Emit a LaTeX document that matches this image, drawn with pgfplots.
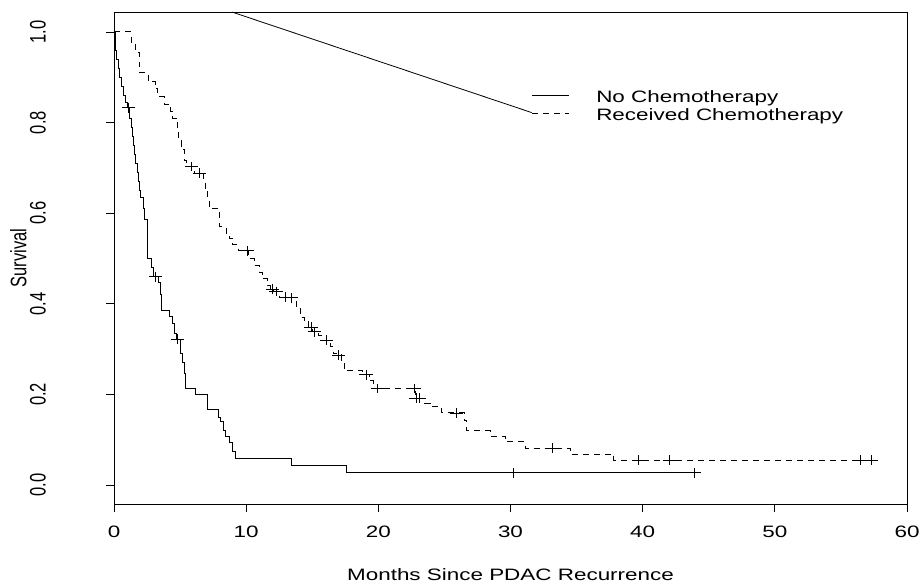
\documentclass[border=0pt]{standalone}
\usepackage{fontspec}
\setmainfont{Liberation Sans}[FakeStretch=1.36]
\newfontfamily\rotfont{Liberation Sans}[FakeStretch=0.737]
\usepackage{pgfplots}
\pgfplotsset{compat=1.18}

% horizontal text and rotated text (the reference is stretched sideways)
\newcommand\hfont{\fontsize{16.5bp}{19bp}\selectfont}
\newcommand\vfont{\rotfont\fontsize{22.4bp}{26bp}\selectfont}

\begin{document}
\begin{tikzpicture}
\useasboundingbox (-114bp,-80bp) rectangle (807bp,504bp);
\begin{axis}[
    scale only axis,
    width=793bp, height=492bp,
    xmin=0, xmax=60, ymin=-0.042, ymax=1.044,
    xtick={0,10,20,30,40,50,60},
    ytick={0,0.2,0.4,0.6,0.8,1},
    xtick pos=lower, ytick pos=left,
    tick align=outside, major tick length=8bp,
    tick style={black, line width=0.8bp},
    axis line style={line width=0.9bp},
    /pgf/number format/assume math mode=true,
    xticklabel style={font=\hfont, anchor=north, inner sep=0pt},
    xticklabel shift=14bp,
    yticklabel={\pgfmathprintnumber[fixed,fixed zerofill,precision=1]{\tick}},
    yticklabel style={font=\vfont, rotate=90, anchor=south, inner sep=0pt},
    yticklabel shift=60bp,
    xlabel={Months Since PDAC Recurrence},
    xlabel style={font=\hfont, at={(axis description cs:0.5,0)}, anchor=base, inner sep=0pt, yshift=-76bp},
    ylabel={Survival},
    ylabel style={font=\vfont, at={(axis description cs:-0.1100,0.5)}, anchor=south, inner sep=0pt},
    legend style={draw=none, fill=none, at={(rel axis cs:0.5267,0.840)}, anchor=north west,
        inner sep=0pt, outer sep=0pt, row sep=1.7bp,
        nodes={inner sep=0pt, font=\hfont, text height=11.8bp, text depth=4.2bp},
        /tikz/every odd column/.append style={column sep=26.7bp}},
    legend cell align=left,
    legend image code/.code={\draw[#1] (0bp,3bp) -- (37bp,3bp);},
]
% No Chemotherapy
\addplot[const plot, black, line width=0.9bp] coordinates {
(0,1.0)(0.08,0.96)(0.2,0.94)(0.3,0.92)(0.4,0.90)(0.55,0.88)(0.7,0.86)(0.85,0.845)
(1.0,0.833)(1.2,0.81)(1.3,0.79)(1.4,0.77)(1.5,0.75)(1.55,0.73)(1.65,0.71)(1.75,0.69)
(1.85,0.67)(1.95,0.65)(2.0,0.634)(2.2,0.61)(2.3,0.587)(2.5,0.545)(2.55,0.50)(2.8,0.48)
(3.0,0.46)(3.35,0.446)(3.5,0.42)(3.6,0.386)(4.2,0.372)(4.45,0.357)(4.6,0.335)(4.7,0.322)
(5.0,0.30)(5.05,0.291)(5.2,0.27)(5.3,0.247)(5.43,0.213)(6.19,0.199)(7.07,0.167)(7.9,0.15)
(8.05,0.14)(8.3,0.12)(8.4,0.107)(8.7,0.093)(9.0,0.074)(9.2,0.059)(13.46,0.043)(17.55,0.027)
(43.9,0.027)
};
\addlegendentry{No Chemotherapy}
% Received Chemotherapy
\addplot[const plot, black, line width=0.9bp, dash pattern=on 6bp off 5bp] coordinates {
(0,1.0)(1.3,0.975)(1.6,0.955)(1.9,0.93)(1.95,0.91)(2.6,0.89)(3.1,0.875)(3.3,0.857)
(3.8,0.84)(4.3,0.825)(4.45,0.81)(4.8,0.78)(4.9,0.76)(5.1,0.74)(5.35,0.717)(5.5,0.703)
(6.1,0.688)(6.8,0.673)(6.9,0.65)(7.1,0.63)(7.2,0.61)(8.0,0.57)(8.5,0.555)(8.7,0.545)
(9.0,0.53)(9.4,0.517)(10.2,0.50)(10.6,0.485)(11.0,0.47)(11.2,0.455)(11.6,0.44)(11.8,0.432)
(12.1,0.427)(12.5,0.415)(13.2,0.413)(13.8,0.39)(14.1,0.37)(14.4,0.36)(14.7,0.348)(15.0,0.338)
(15.5,0.33)(15.8,0.32)(16.4,0.305)(16.6,0.29)(16.9,0.287)(17.2,0.272)(17.4,0.252)(18.8,0.243)
(19.3,0.23)(19.6,0.213)(22.8,0.20)(22.85,0.191)(23.5,0.18)(24.0,0.173)(24.8,0.159)(26.5,0.143)
(26.7,0.12)(28.5,0.108)(29.6,0.096)(31.1,0.081)(34.5,0.068)(37.8,0.055)(57.3,0.055)
};
\addlegendentry{Received Chemotherapy}
% censoring marks
\addplot[only marks, mark=+, mark size=5.5bp, mark options={black, line width=0.8bp, xscale=1.2, yscale=0.9}, forget plot] coordinates {
(1.08,0.833)(3.15,0.46)(4.82,0.322)(30.2,0.027)(43.9,0.027)
};
\addplot[only marks, mark=+, mark size=5.5bp, mark options={black, line width=0.8bp, xscale=1.2, yscale=0.9}, forget plot] coordinates {
(5.88,0.703)(6.44,0.688)(10.1,0.517)(12.0,0.432)(12.25,0.427)(13.0,0.415)(13.4,0.413)
(14.9,0.348)(15.2,0.338)(16.1,0.32)(17.0,0.287)(19.07,0.243)(19.95,0.213)(22.7,0.213)
(22.85,0.191)(23.1,0.191)(25.9,0.159)(33.2,0.081)(39.7,0.055)(42.0,0.055)(56.5,0.055)(57.3,0.055)
};
% stray line running into the legend
\addplot[black, line width=0.8bp, forget plot] coordinates {(8.92,1.044)(31.6,0.822)};
\end{axis}
\end{tikzpicture}
\end{document}
